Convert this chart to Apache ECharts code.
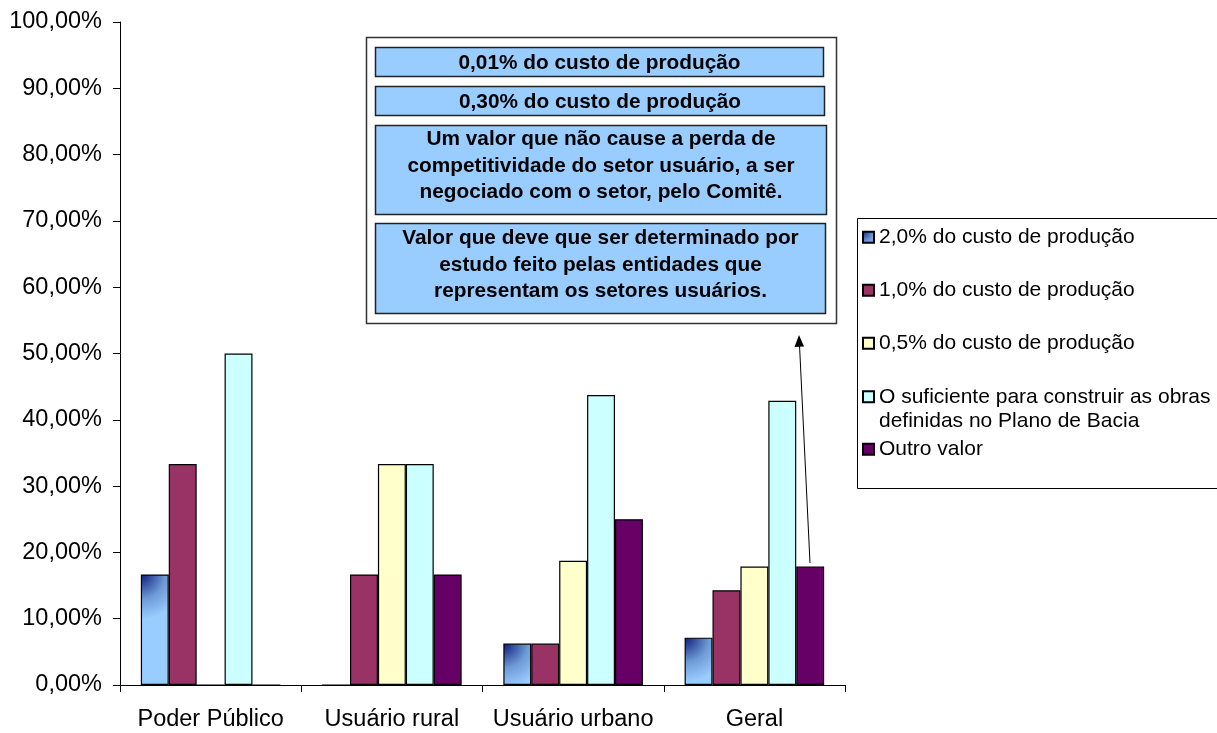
<!DOCTYPE html>
<html>
<head>
<meta charset="utf-8">
<script src="https://cdn.jsdelivr.net/npm/echarts@6/dist/echarts.min.js"></script>
<style>
html,body{margin:0;padding:0;background:#fff;}
#chart{width:1217px;height:733px;}
</style>
</head>
<body>
<div id="chart"></div>
<script>
const categories = ['Poder Público', 'Usuário rural', 'Usuário urbano', 'Geral'];
const seriesNames = [
  '2,0% do custo de produção',
  '1,0% do custo de produção',
  '0,5% do custo de produção',
  'O suficiente para construir as obras\ndefinidas no Plano de Bacia',
  'Outro valor'
];
const s20 = [16.67, 0, 6.25, 7.14];
const s10 = [33.33, 16.67, 6.25, 14.29];
const s05 = [0, 33.33, 18.75, 17.86];
const sSuf = [50, 33.33, 43.75, 42.86];
const sOutro = [0, 16.67, 25, 17.86];
const yTicks = [0, 10, 20, 30, 40, 50, 60, 70, 80, 90, 100];
const notes = [
  '0,01% do custo de produção',
  '0,30% do custo de produção',
  'Um valor que não cause a perda de\ncompetitividade do setor usuário, a ser\nnegociado com o setor, pelo Comitê.',
  'Valor que deve que ser determinado por\nestudo feito pelas entidades que\nrepresentam os setores usuários.'
];

const FONT = "'Liberation Sans', Arial, Helvetica, sans-serif";
const blueGrad = new echarts.graphic.RadialGradient(0, 0, 1.6, [
  {offset: 0, color: '#0d1a7a'},
  {offset: 0.55, color: '#6e9ad6'},
  {offset: 1, color: '#99ccff'}
]);
const colors = [blueGrad, '#993366', '#ffffcc', '#ccffff', '#660066'];
const dataSets = [s20, s10, s05, sSuf, sOutro];

const series = dataSets.map((d, i) => ({
  name: seriesNames[i],
  type: 'bar',
  data: d,
  barGap: '0%',
  barCategoryGap: '23%',
  itemStyle: {color: colors[i], borderColor: '#000', borderWidth: 1.2},
  emphasis: {disabled: true}
}));

const legendTops = [225, 278, 331, 360, 437];
const legends = seriesNames.map((n, i) => ({
  data: [n],
  orient: 'vertical',
  left: 862,
  top: legendTops[i],
  padding: 0,
  itemWidth: 11,
  itemHeight: 11,
  itemGap: 5,
  icon: 'rect',
  selectedMode: false,
  formatter: name => (name.indexOf('\n') >= 0 ? '\n' + name : name),
  textStyle: {fontFamily: FONT, fontSize: 21, color: '#000', lineHeight: 24.5}
}));

const noteBoxes = [
  {y: 47, h: 29, w: 448, dy: 1.5},
  {y: 86, h: 29, w: 449, dy: 1.5},
  {y: 125, h: 89, w: 451, dy: -3.5},
  {y: 223, h: 90, w: 450, dy: -3}
];
const graphics = [
  {type: 'rect', z: 0, shape: {x: 857.5, y: 218.5, width: 370, height: 270},
   style: {fill: '#fff', stroke: '#000', lineWidth: 1}},
  {type: 'rect', shape: {x: 366.5, y: 37.5, width: 470, height: 286},
   style: {fill: '#fff', stroke: '#333', lineWidth: 1.5}},
];
noteBoxes.forEach((b, i) => {
  graphics.push({type: 'rect', shape: {x: 375.5, y: b.y + 0.5, width: b.w, height: b.h},
    style: {fill: '#99ccff', stroke: '#222', lineWidth: 1.5}});
  graphics.push({type: 'text', x: 375.5 + b.w / 2, y: b.y + b.h / 2 + b.dy,
    style: {text: notes[i], fill: '#000', font: 'bold 20.8px ' + FONT, align: 'center',
      verticalAlign: 'middle', lineHeight: 26.5}});
});
graphics.push({type: 'line', shape: {x1: 810, y1: 563, x2: 799.5, y2: 345},
  style: {stroke: '#000', lineWidth: 1}});
graphics.push({type: 'polygon', shape: {points: [[799, 335], [794.5, 347], [804, 346.5]]},
  style: {fill: '#000'}});

const chart = echarts.init(document.getElementById('chart'));
chart.setOption({
  animation: false,
  backgroundColor: '#fff',
  grid: {left: 120, right: 372, top: 22, bottom: 48},
  legend: legends,
  xAxis: {
    type: 'category',
    data: categories,
    axisLine: {lineStyle: {color: '#000', width: 1}},
    axisTick: {show: true, interval: 0, alignWithLabel: false, length: 7, lineStyle: {color: '#000'}},
    axisLabel: {interval: 0, fontFamily: FONT, fontSize: 23.5, color: '#000', margin: 23}
  },
  yAxis: {
    type: 'value',
    min: yTicks[0],
    max: yTicks[yTicks.length - 1],
    interval: yTicks[1] - yTicks[0],
    splitLine: {show: false},
    axisLine: {show: true, lineStyle: {color: '#000', width: 1}},
    axisTick: {show: true, length: 7, lineStyle: {color: '#000'}},
    axisLabel: {fontFamily: FONT, fontSize: 23.5, color: '#000', margin: 18,
      formatter: v => v.toFixed(2).replace('.', ',') + '%'}
  },
  series: series,
  graphic: graphics
});
</script>
</body>
</html>
